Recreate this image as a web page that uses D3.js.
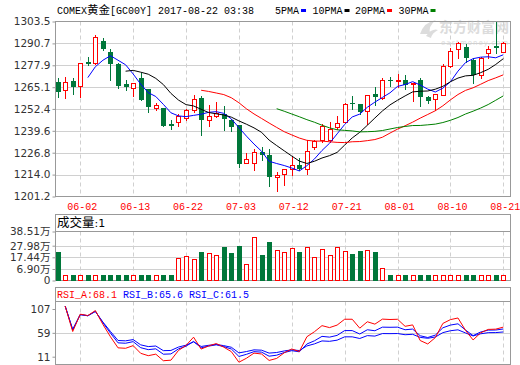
<!DOCTYPE html>
<html><head><meta charset="utf-8">
<script src="https://cdn.jsdelivr.net/npm/d3@7"></script>
<style>html,body{margin:0;padding:0;background:#fff}svg{display:block}</style>
</head><body>
<svg id="c" width="520" height="365"></svg>
<script>
const dates = ["05-30","05-31","06-01","06-02","06-05","06-06","06-07","06-08","06-09","06-12",
"06-13","06-14","06-15","06-16","06-19","06-20","06-21","06-22","06-23","06-26",
"06-27","06-28","06-29","06-30","07-03","07-04","07-05","07-06","07-07","07-10",
"07-11","07-12","07-13","07-14","07-17","07-18","07-19","07-20","07-21","07-24",
"07-25","07-26","07-27","07-28","07-31","08-01","08-02","08-03","08-04","08-07",
"08-08","08-09","08-10","08-11","08-14","08-15","08-16","08-17","08-18","08-21"];
const opens = [1268.0,1263.2,1268.6,1265.9,1279.8,1279.0,1292.3,1285.8,1278.4,1266.9,
1264.7,1270.2,1264.3,1253.2,1253.0,1243.3,1244.8,1247.1,1251.6,1258.8,
1246.0,1248.1,1249.7,1245.8,1242.8,1221.0,1221.0,1227.0,1225.3,1212.7,
1214.5,1217.4,1219.4,1217.4,1229.9,1234.0,1234.0,1241.7,1244.8,1256.1,
1255.5,1251.2,1261.0,1258.9,1269.4,1269.0,1269.2,1266.7,1269.2,1259.4,
1258.1,1260.8,1277.6,1287.2,1288.8,1280.9,1272.1,1284.8,1289.1,1285.8];
const highs = [1270.2,1271.2,1270.2,1279.5,1282.5,1295.6,1293.6,1287.2,1279.0,1269.2,
1267.3,1273.5,1264.3,1256.1,1253.0,1245.8,1249.7,1252.6,1260.4,1259.8,
1254.6,1256.5,1254.0,1246.7,1242.8,1226.6,1228.8,1230.1,1228.8,1215.5,
1217.4,1224.3,1223.7,1234.0,1234.0,1243.8,1244.8,1248.3,1256.1,1259.8,
1255.5,1260.8,1265.3,1270.2,1271.2,1273.1,1272.1,1267.8,1270.2,1259.8,
1261.4,1278.4,1287.8,1291.3,1290.1,1281.9,1282.9,1289.1,1303.0,1291.3];
const lows = [1259.1,1258.9,1261.0,1259.4,1278.0,1278.4,1286.9,1269.2,1264.9,1263.4,
1259.8,1257.5,1250.6,1251.6,1242.4,1240.9,1242.2,1246.1,1250.6,1237.4,
1242.4,1247.7,1240.3,1239.3,1218.4,1221.0,1216.5,1222.3,1207.3,1204.3,
1208.1,1213.5,1216.9,1214.5,1228.8,1233.1,1233.1,1240.9,1244.8,1252.6,
1249.7,1243.4,1254.6,1258.1,1265.7,1265.3,1264.3,1256.9,1254.0,1256.1,
1251.6,1260.8,1277.0,1282.3,1279.6,1267.8,1270.2,1281.9,1284.8,1285.8];
const closes = [1262.4,1268.2,1265.3,1279.0,1278.6,1294.2,1287.2,1278.4,1265.9,1265.3,
1267.3,1257.5,1253.6,1254.5,1242.4,1242.7,1248.3,1251.6,1258.1,1245.8,
1248.3,1250.1,1246.7,1241.9,1220.4,1223.3,1227.0,1225.6,1212.6,1213.9,
1217.4,1219.8,1217.0,1228.0,1233.5,1242.2,1240.9,1244.4,1255.5,1255.5,
1250.6,1260.8,1259.4,1269.2,1269.0,1269.4,1266.3,1267.8,1259.4,1256.9,
1261.0,1277.6,1286.2,1290.7,1281.9,1272.5,1281.9,1287.4,1287.8,1290.7];
const volumes = [22.5,3.1,3.1,3.1,3.1,3.1,3.1,3.1,3.1,3.1,
3.1,3.1,3.1,3.1,3.1,3.1,17.1,18.4,15.9,22.3,
21.1,19.3,26.8,21.4,28.0,11.1,34.3,19.5,30.8,23.8,
22.0,25.6,22.3,26.5,17.4,25.0,19.3,26.5,22.9,20.4,
23.2,23.8,22.3,7.8,3.1,3.1,3.1,3.1,3.1,3.1,
3.1,3.1,3.1,3.1,3.1,3.1,3.1,3.1,3.1,3.1];
const xTicks = ["06-02","06-13","06-22","07-03","07-12","07-21","08-01","08-10","08-21"];
const yTicks = [1303.5,1290.7,1277.9,1265.1,1252.4,1239.6,1226.8,1214.0,1201.2];
const volTicks = [0,6.90,17.44,27.98,38.51];
const rsiTicks = [107,59,11];
const maPeriods = [5,10,20,30];
const maColors = ["#0000ff","#000000","#ff0000","#008000"];
const rsiPeriods = [6,12,24];
const rsiColors = ["#ff0000","#0000ff","#0000ff"];
const rsiHeader = [["RSI_A:68.1","#ff0000"],["RSI_B:65.6","#0000ff"],["RSI_C:61.5","#0000ff"]];

const UP = "#ff0000", DOWN = "#00773a", FRAME = "#999", GRID = "#d0d0d0";
const L = 55.5, R = 510.5;
const M = {top:21.5, bottom:196.5};
const V = {top:214.5, sep:231.5, bottom:280.5};
const S = {top:287.5, sep:301.5, bottom:364.5};
const svg = d3.select("#c");
const monoF = "'Liberation Mono','DejaVu Sans Mono',monospace";
const sansF = "'DejaVu Sans','Noto Sans CJK SC',sans-serif";

const x = d3.scalePoint().domain(dates).range([57.6, 503.3]);
const y = d3.scaleLinear().domain([1201.2,1303.5]).range([M.bottom, M.top]);
const yv = d3.scaleLinear().domain(volTicks).range([V.bottom,269,257.3,245.7,V.sep]);
const yr = d3.scaleLinear().domain([0,100]).range([374,306]);
const yrLab = d3.scaleLinear().domain([11,107]).range([356.7,309]);
const cxOf = d => Math.round(x(d));
const rp = v => Math.round(v) + 0.5;

const defs = svg.append("defs");
defs.append("clipPath").attr("id","cm").append("rect").attr("x",L).attr("y",M.top).attr("width",R-L).attr("height",M.bottom-M.top);
defs.append("clipPath").attr("id","cr").append("rect").attr("x",L).attr("y",S.sep).attr("width",R-L).attr("height",S.bottom-S.sep);

// watermark
const wm = svg.append("g").attr("fill","#dcdcdc");
wm.append("path").attr("d","M420,34 Q424,22 436,20 Q428,26 430,34 Z M426,36 Q432,28 438,30 Q432,33 431,38 Z");
wm.append("text").attr("x",439).attr("y",32).attr("font-family","'Noto Sans CJK SC',sans-serif").attr("font-size",14).attr("font-weight","bold").text("东方财富网");
wm.append("text").attr("x",441).attr("y",45).attr("font-family",sansF).attr("font-size",7).attr("letter-spacing",1).text("eastmoney.com");

function vGrid(t,b){
  svg.append("g").selectAll("line").data(xTicks).join("line")
    .attr("x1",d=>cxOf(d)+0.5).attr("x2",d=>cxOf(d)+0.5).attr("y1",t).attr("y2",b)
    .attr("stroke",GRID).attr("stroke-dasharray","4,3");
}
vGrid(M.top,M.bottom); vGrid(V.sep,V.bottom); vGrid(S.sep,S.bottom);

svg.append("g").selectAll("line").data(yTicks.slice(1,-1)).join("line")
  .attr("x1",L).attr("x2",R).attr("y1",d=>rp(y(d))).attr("y2",d=>rp(y(d))).attr("stroke",GRID);
svg.append("g").selectAll("line").data(volTicks.slice(1,-1)).join("line")
  .attr("x1",L).attr("x2",R).attr("y1",d=>rp(yv(d))).attr("y2",d=>rp(yv(d))).attr("stroke",GRID);
svg.append("line").attr("x1",L).attr("x2",R).attr("y1",rp(yrLab(59))).attr("y2",rp(yrLab(59))).attr("stroke",GRID);

svg.append("rect").attr("x",L).attr("y",M.top).attr("width",R-L).attr("height",M.bottom-M.top).attr("fill","none").attr("stroke",FRAME);
svg.append("rect").attr("x",L).attr("y",V.top).attr("width",R-L).attr("height",V.bottom-V.top).attr("fill","none").attr("stroke",FRAME);
svg.append("line").attr("x1",L).attr("x2",R).attr("y1",V.sep).attr("y2",V.sep).attr("stroke",FRAME);
svg.append("rect").attr("x",L).attr("y",S.top).attr("width",R-L).attr("height",S.bottom-S.top).attr("fill","none").attr("stroke",FRAME);
svg.append("line").attr("x1",L).attr("x2",R).attr("y1",S.sep).attr("y2",S.sep).attr("stroke",FRAME);

function leftAxis(scale, vals, fmt){
  const g = svg.append("g").attr("transform",`translate(${L},0)`)
    .call(d3.axisLeft(scale).tickValues(vals).tickFormat(fmt).tickSize(3).tickPadding(2).offset(0.5));
  g.select(".domain").remove();
  g.selectAll(".tick line").attr("stroke",FRAME);
  g.selectAll("text").attr("fill","#333").attr("font-family",sansF).attr("font-size",10.5);
  return g;
}
leftAxis(y, yTicks, d3.format(".1f"));
leftAxis(yv, volTicks, d => d===0 ? "0" : d3.format(".2f")(d)+"万");
leftAxis(yrLab, rsiTicks, d3.format("d"));

svg.append("g").selectAll("text").data(xTicks).join("text")
  .attr("x",d=>x(d)+2).attr("y",209.5).attr("text-anchor","middle")
  .attr("font-family",monoF).attr("font-size",10).attr("fill","#ff0000").text(d=>d);

const t = svg.append("text").attr("x",57).attr("y",13.5).attr("font-family",monoF).attr("font-size",10).attr("fill","#000");
t.append("tspan").text("COMEX");
t.append("tspan").attr("font-family","'Noto Sans CJK SC',sans-serif").attr("font-size",11.5).text("黄金");
t.append("tspan").text("[GC00Y] 2017-08-22 03:38");
const legX = [275,312.5,355,398.5];
maPeriods.forEach((p,k)=>{
  const tx = svg.append("text").attr("x",legX[k]).attr("y",13.5).attr("font-family",monoF).attr("font-size",10).attr("fill","#000").text(p+"PMA");
  const w = tx.node().getComputedTextLength();
  svg.append("rect").attr("x",legX[k]+w+2).attr("y",9).attr("width",5).attr("height",3).attr("fill",maColors[k]);
});

const idx = d3.range(dates.length);
const cg = svg.append("g").attr("clip-path","url(#cm)");
idx.forEach(i=>{
  const o=opens[i], c=closes[i], up=c>=o, col=up?UP:DOWN, cx=cxOf(dates[i]);
  cg.append("line").attr("x1",cx+0.5).attr("x2",cx+0.5).attr("y1",Math.round(y(highs[i]))).attr("y2",Math.round(y(lows[i]))+1).attr("stroke",col);
  const yt=Math.round(y(Math.max(o,c))), yb=Math.round(y(Math.min(o,c)));
  if(up){
    cg.append("rect").attr("x",cx-1.5).attr("y",yt+0.5).attr("width",4).attr("height",Math.max(yb-yt,1)).attr("fill","#fff").attr("stroke",col);
  } else {
    cg.append("rect").attr("x",cx-2).attr("y",yt).attr("width",5).attr("height",Math.max(yb-yt,1)).attr("fill",col);
  }
});

maPeriods.forEach((p,k)=>{
  const ma = idx.map(i => i < p-1 ? null : d3.mean(closes.slice(i-p+1,i+1)));
  cg.append("path").datum(idx.filter(i=>ma[i]!==null))
    .attr("d",d3.line().x(i=>x(dates[i])).y(i=>y(ma[i])))
    .attr("fill","none").attr("stroke",maColors[k]).attr("stroke-width",1);
});

const vh = svg.append("text").attr("x",57).attr("y",227).attr("font-size",12.5).attr("fill","#000");
vh.append("tspan").attr("font-family","'Noto Sans CJK SC',sans-serif").text("成交量");
vh.append("tspan").attr("font-family",sansF).attr("font-size",11).text(":1");
const vg = svg.append("g");
idx.forEach(i=>{
  const up=closes[i]>=opens[i], cx=cxOf(dates[i]), yt=Math.round(yv(volumes[i])), yb=Math.round(V.bottom);
  if(up){
    vg.append("rect").attr("x",cx-1.5).attr("y",yt+0.5).attr("width",4).attr("height",yb-yt-1).attr("fill","#fff").attr("stroke",UP);
  } else {
    vg.append("rect").attr("x",cx-2).attr("y",yt).attr("width",5).attr("height",yb-yt).attr("fill",DOWN);
  }
});

const rh = svg.append("text").attr("x",57).attr("y",297.5).attr("font-family",monoF).attr("font-size",10);
rsiHeader.forEach((h,k)=>{ rh.append("tspan").attr("fill",h[1]).text((k?" ":"")+h[0]); });
function rsi(n){
  let up=0, ab=0;
  return closes.map((c,i)=>{
    if(i===0) return null;
    const d=c-closes[i-1];
    up=(Math.max(d,0)+(n-1)*up)/n; ab=(Math.abs(d)+(n-1)*ab)/n;
    return ab===0?50:up/ab*100;
  });
}
const rg = svg.append("g").attr("clip-path","url(#cr)");
[2,1,0].forEach(k=>{
  const r = rsi(rsiPeriods[k]);
  rg.append("path").datum(idx.filter(i=>r[i]!==null))
    .attr("d",d3.line().x(i=>x(dates[i])).y(i=>yr(r[i])))
    .attr("fill","none").attr("stroke",rsiColors[k]).attr("stroke-width",1);
});
</script>
</body></html>
